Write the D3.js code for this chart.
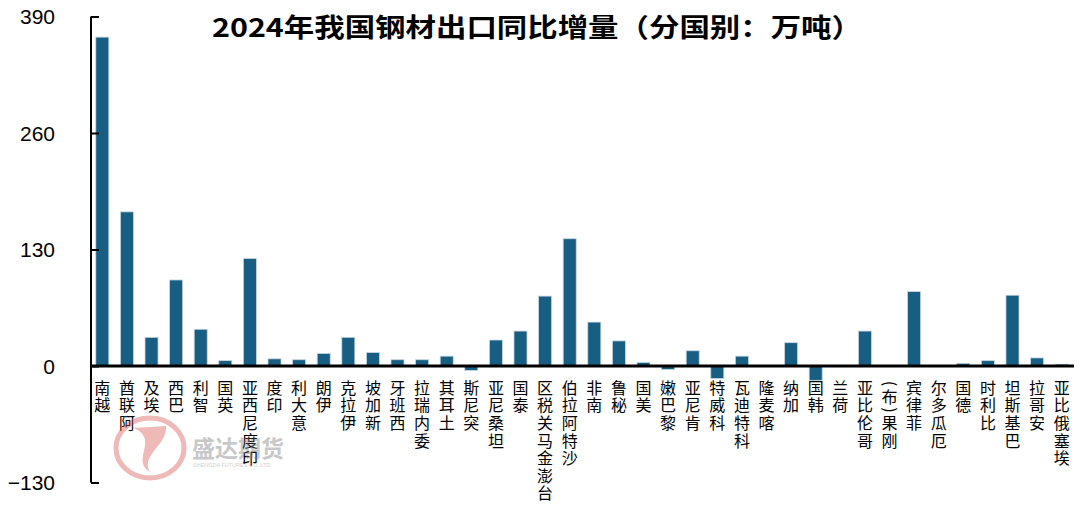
<!DOCTYPE html>
<html><head><meta charset="utf-8">
<script src="https://cdn.jsdelivr.net/npm/d3@7/dist/d3.min.js"></script>
<style>html,body{margin:0;padding:0;background:#fff;}svg{display:block;}</style>
</head><body>
<svg id="chart" width="1080" height="529"></svg>
<script>
const categories = ["越南","阿联酋","埃及","巴西","智利","英国","印度尼西亚","印度","意大利","伊朗","伊拉克","新加坡","西班牙","委内瑞拉","土耳其","突尼斯","坦桑尼亚","泰国","台澎金马关税区","沙特阿拉伯","南非","秘鲁","美国","黎巴嫩","肯尼亚","科威特","科特迪瓦","喀麦隆","加纳","韩国","荷兰","哥伦比亚","刚果(布)","菲律宾","厄瓜多尔","德国","比利时","巴基斯坦","安哥拉","埃塞俄比亚"];
const values = [367,172,32,96,41,6,120,8,7,14,32,15,7,7,11,-5,29,39,78,142,49,28,4,-4,17,-14,11,0,26,-16,0,39,0,83,0,3,6,79,9,2];
const yTicks = [-130,0,130,260,390];
const title = "2024年我国钢材出口同比增量（分国别：万吨）";

const svg = d3.select("#chart");
const x = d3.scaleBand().domain(categories).range([91,1073]).paddingInner(0.47).paddingOuter(0.195);
const y = d3.scaleLinear().domain([-130,390]).range([482.5,16.5]);

// bars
svg.append("g").selectAll("rect").data(values).join("rect")
  .attr("x",(d,i)=>x(categories[i]))
  .attr("width",x.bandwidth())
  .attr("y",d=>Math.min(y(d),y(0)))
  .attr("height",d=>Math.abs(y(d)-y(0)))
  .attr("fill","#175e82")
  .attr("stroke","#c9d7e1").attr("stroke-width",0.8);

// y axis
const yAxis = d3.axisLeft(y).tickValues(yTicks).tickSize(-8).tickPadding(36)
  .tickFormat(d=>d<0?"\u2212"+Math.abs(d):d);
const gy = svg.append("g").attr("transform","translate(91,0)").call(yAxis);
gy.select(".domain").attr("stroke","#000").attr("stroke-width",2).attr("d","M0,"+y(390)+"V"+y(-130));
gy.selectAll(".tick line").attr("stroke","#000").attr("stroke-width",2).attr("x1",0).attr("x2",8);
gy.selectAll(".tick text").attr("font-family","'Liberation Sans',Arial,sans-serif").attr("font-size",21).attr("fill","#000").attr("dy","0.35em");
// zero line
svg.append("line").attr("x1",90).attr("x2",1074).attr("y1",y(0)).attr("y2",y(0)).attr("stroke","#000").attr("stroke-width",3);

// x labels: upright glyphs stacked with the last character on top
const lab = svg.append("g").attr("font-family","'Noto Sans CJK SC','Noto Sans',sans-serif").attr("font-size",16).attr("fill","#000");
const halfW = 5.4;
categories.forEach(c=>{
  const cx = x(c)+x.bandwidth()/2;
  const chars = Array.from(c);
  const n = chars.length;
  const xs = new Array(n), ys = new Array(n), rs = new Array(n);
  let yy = 379;
  for(let k=n-1;k>=0;k--){
    const half = chars[k].charCodeAt(0)<256;
    const h = half?9:17.6;
    const cy = yy + h/2;
    if(half){ xs[k]=cx+4.8+halfW/2; ys[k]=cy+halfW/2; rs[k]=-90; }
    else { xs[k]=cx; ys[k]=cy+6; rs[k]=0; }
    yy += h;
  }
  lab.append("text").attr("x",xs.map(v=>v.toFixed(2)).join(" ")).attr("y",ys.map(v=>v.toFixed(2)).join(" "))
    .attr("rotate",rs.join(" ")).attr("text-anchor","middle").text(c);
});

// title
svg.append("text").attr("x",537).attr("y",37).attr("text-anchor","middle")
  .attr("font-family","'Noto Sans CJK SC',sans-serif").attr("font-weight","bold").attr("font-size",26)
  .attr("textLength",650).attr("lengthAdjust","spacingAndGlyphs").attr("fill","#000").text(title);

// watermark
const wm = svg.append("g").attr("opacity",0.4);
wm.append("ellipse").attr("cx",150).attr("cy",448).attr("rx",34).attr("ry",30).attr("fill","none").attr("stroke","#d9534f").attr("stroke-width",5);
wm.append("path").attr("d","M134,428 C160,440 130,460 150,472 C140,455 168,445 166,426 Z").attr("fill","#d9534f");
wm.append("text").attr("x",192).attr("y",457).attr("font-family","'Noto Sans CJK SC',sans-serif").attr("font-weight","bold").attr("font-size",23).attr("fill","#777").text("盛达期货");
wm.append("text").attr("x",193).attr("y",467).attr("font-family","'Liberation Sans',sans-serif").attr("font-size",5.5).attr("fill","#888").text("SHENGDA FUTURES CO.,LTD.");
</script>
</body></html>
